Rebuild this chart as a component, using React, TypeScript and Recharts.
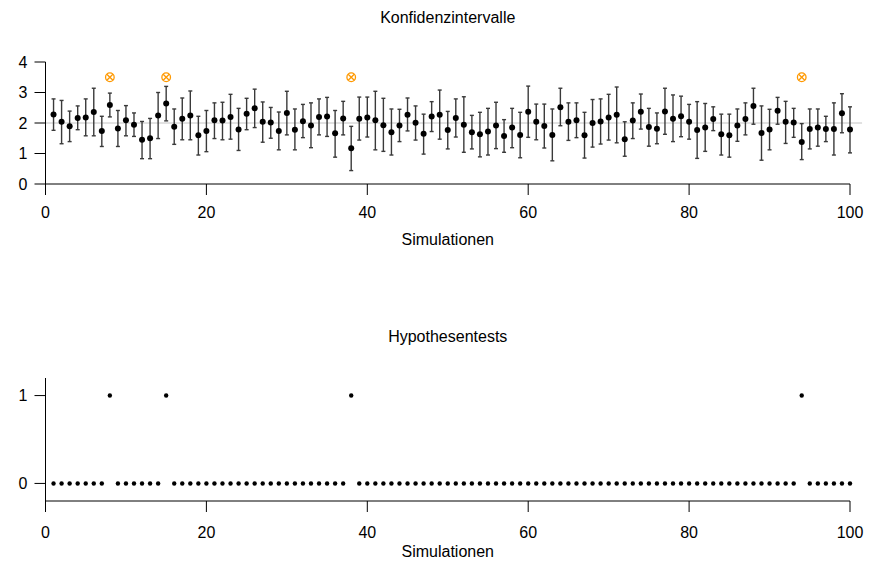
import { ComposedChart, Scatter, ErrorBar, XAxis, YAxis, ReferenceLine } from 'recharts';

// Mittelwerte und Konfidenzgrenzen der 100 Simulationen
const mean = [
  2.28, 2.04, 1.89, 2.16, 2.18, 2.36, 1.74, 2.59, 1.82, 2.09,
  1.94, 1.45, 1.5, 2.25, 2.64, 1.88, 2.14, 2.25, 1.6, 1.74,
  2.09, 2.08, 2.2, 1.79, 2.3, 2.48, 2.04, 2.02, 1.74, 2.33,
  1.78, 2.06, 1.92, 2.2, 2.21, 1.66, 2.15, 1.17, 2.14, 2.18,
  2.09, 1.93, 1.7, 1.92, 2.27, 2.01, 1.65, 2.21, 2.27, 1.77,
  2.16, 1.94, 1.7, 1.63, 1.72, 1.92, 1.57, 1.85, 1.61, 2.37,
  2.04, 1.9, 1.61, 2.52, 2.04, 2.09, 1.6, 2.0, 2.05, 2.18,
  2.27, 1.47, 2.08, 2.37, 1.87, 1.81, 2.38, 2.14, 2.22, 2.04,
  1.77, 1.85, 2.13, 1.63, 1.6, 1.92, 2.13, 2.56, 1.67, 1.79,
  2.4, 2.04, 2.02, 1.38, 1.8, 1.85, 1.8, 1.8, 2.32, 1.79,
];
const upper = [
  2.79, 2.74, 2.39, 2.56, 2.79, 3.14, 2.22, 2.98, 2.41, 2.57,
  2.33, 2.05, 2.15, 3.0, 3.2, 2.46, 2.82, 3.05, 2.22, 2.41,
  2.66, 2.68, 2.94, 2.48, 2.81, 3.11, 2.69, 2.51, 2.36, 3.04,
  2.46, 2.61, 2.66, 2.79, 2.84, 2.41, 2.71, 1.89, 2.85, 2.85,
  3.04, 2.81, 2.46, 2.45, 2.82, 2.56, 2.29, 2.7, 3.08, 2.38,
  2.79, 2.86, 2.25, 2.35, 2.48, 2.68, 2.11, 2.48, 2.35, 3.21,
  2.62, 2.62, 2.46, 3.14, 2.66, 2.66, 2.35, 2.77, 2.79, 2.94,
  3.18, 2.04, 2.66, 2.95, 2.48, 2.33, 3.14, 2.92, 2.88, 2.61,
  2.7, 2.64, 2.53, 2.29, 2.29, 2.46, 2.66, 3.14, 2.56, 2.45,
  2.84, 2.71, 2.48, 1.98, 2.46, 2.46, 2.22, 2.66, 2.96, 2.53,
];
const lower = [
  1.76, 1.32, 1.39, 1.78, 1.58, 1.58, 1.23, 2.2, 1.23, 1.58,
  1.56, 0.83, 0.83, 1.49, 2.07, 1.3, 1.45, 1.45, 0.95, 1.06,
  1.49, 1.45, 1.47, 1.1, 1.78, 1.85, 1.37, 1.5, 1.12, 1.61,
  1.12, 1.52, 1.19, 1.61, 1.56, 0.88, 1.61, 0.44, 1.44, 1.54,
  1.12, 1.07, 0.95, 1.39, 1.74, 1.44, 0.98, 1.72, 1.47, 1.15,
  1.54, 1.04, 1.15, 0.89, 0.95, 1.16, 1.04, 1.19, 0.86, 1.53,
  1.45, 1.18, 0.76, 1.91, 1.43, 1.52, 0.85, 1.21, 1.31, 1.44,
  1.35, 0.91, 1.49, 1.8, 1.24, 1.32, 1.63, 1.39, 1.55, 1.47,
  0.84, 1.07, 1.75, 0.95, 0.88, 1.4, 1.61, 1.96, 0.78, 1.12,
  1.96, 1.33, 1.53, 0.8, 1.15, 1.24, 1.39, 0.95, 1.68, 1.02,
];
const rejectedRuns = [8, 15, 38, 94];
const xTicks = [0, 20, 40, 60, 80, 100];
const ciTicks = [0, 1, 2, 3, 4];
const testTicks = [0, 1];
const trueMean = 2;
const markerLevel = 3.5;

const ciData = mean.map((m, i) => ({ run: i + 1, mean: m, err: [m - lower[i], upper[i] - m] }));
const markerData = rejectedRuns.map((run) => ({ run, y: markerLevel }));
const testData = mean.map((_, i) => ({ run: i + 1, rejected: rejectedRuns.includes(i + 1) ? 1 : 0 }));

const FONT = '"Liberation Sans", Arial, sans-serif';
const FS = 16;
const tickStyle = { fontSize: FS, fill: '#000', fontFamily: FONT };

const AxisTitle = ({ viewBox, text, dy }: any) => (
  <text
    x={viewBox.x + viewBox.width / 2}
    y={viewBox.y + dy}
    textAnchor="middle"
    fontSize={FS}
    fontFamily={FONT}
    fill="#000"
  >
    {text}
  </text>
);

const Dot = (r: number) => (p: any) => <circle cx={p.cx} cy={p.cy} r={r} fill="#000" />;

const RejectMarker = (p: any) => {
  const r = 4.3;
  const d = r * 0.707;
  return (
    <g stroke="#ff9900" strokeWidth={1.3} fill="none">
      <circle cx={p.cx} cy={p.cy} r={r} />
      <line x1={p.cx - d} y1={p.cy - d} x2={p.cx + d} y2={p.cy + d} />
      <line x1={p.cx - d} y1={p.cy + d} x2={p.cx + d} y2={p.cy - d} />
    </g>
  );
};

const Title = ({ top, text }: { top: number; text: string }) => (
  <div
    style={{
      position: 'absolute',
      left: 45.5,
      width: 804.5,
      top,
      lineHeight: '18px',
      textAlign: 'center',
      fontSize: FS,
      fontFamily: FONT,
      color: '#000',
    }}
  >
    {text}
  </div>
);

export default function App() {
  return (
    <div style={{ position: 'absolute', left: 0, top: 0, width: 870, height: 567, background: '#fff' }}>
      <Title top={9} text="Konfidenzintervalle" />
      <div style={{ position: 'absolute', left: 0, top: 0 }}>
        <ComposedChart width={870} height={283} margin={{ top: 62, right: 20, bottom: 39, left: 5.5 }}>
          <XAxis
            type="number"
            dataKey="run"
            domain={[0, 100]}
            ticks={xTicks}
            interval={0}
            tickSize={11}
            tickMargin={12}
            stroke="#000"
            tick={tickStyle}
            height={60}
            label={<AxisTitle text="Simulationen" dy={61} />}
          />
          <YAxis
            type="number"
            domain={[0, 4]}
            ticks={ciTicks}
            interval={0}
            tickSize={11}
            tickMargin={7}
            stroke="#000"
            tick={tickStyle}
            width={40}
          />
          <ReferenceLine
            segment={[{ x: 0, y: trueMean }, { x: 101.5, y: trueMean }]}
            stroke="#c4c4c4"
            ifOverflow="visible"
          />
          <Scatter data={ciData} dataKey="mean" shape={Dot(3)} isAnimationActive={false}>
            <ErrorBar dataKey="err" direction="y" width={2} stroke="#3a3a3a" strokeWidth={1.4} isAnimationActive={false} />
          </Scatter>
          <Scatter data={markerData} dataKey="y" shape={RejectMarker} isAnimationActive={false} />
        </ComposedChart>
      </div>

      <Title top={328} text="Hypothesentests" />
      <div style={{ position: 'absolute', left: 0, top: 283 }}>
        <ComposedChart width={870} height={284} margin={{ top: 95, right: 20, bottom: 16, left: 5.5 }}>
          <XAxis
            type="number"
            dataKey="run"
            domain={[0, 100]}
            ticks={xTicks}
            interval={0}
            tickSize={11}
            tickMargin={15}
            stroke="#000"
            tick={tickStyle}
            height={50}
            label={<AxisTitle text="Simulationen" dy={56} />}
          />
          <YAxis
            type="number"
            domain={[-0.2, 1.2]}
            ticks={testTicks}
            interval={0}
            tickSize={11}
            tickMargin={7}
            stroke="#000"
            tick={tickStyle}
            width={40}
          />
          <Scatter data={testData} dataKey="rejected" shape={Dot(2.2)} isAnimationActive={false} />
        </ComposedChart>
      </div>
    </div>
  );
}
